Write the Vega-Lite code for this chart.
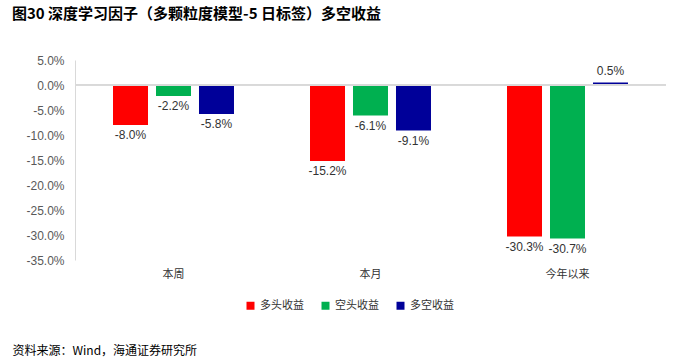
{
  "$schema": "https://vega.github.io/schema/vega-lite/v6.json",
  "autosize": "none",
  "width": 591,
  "height": 200,
  "padding": {"left": 75, "top": 60, "right": 34, "bottom": 102},
  "background": "white",
  "title": {
    "text": "图30 深度学习因子（多颗粒度模型-5 日标签）多空收益",
    "anchor": "start",
    "frame": "group",
    "dx": -63,
    "offset": 32,
    "font": "Noto Sans CJK SC",
    "fontSize": 15,
    "fontWeight": "bold",
    "color": "#000000"
  },
  "data": {
    "values": [
      {"period": "本周", "series": "多头收益", "value": -0.080},
      {"period": "本周", "series": "空头收益", "value": -0.022},
      {"period": "本周", "series": "多空收益", "value": -0.058},
      {"period": "本月", "series": "多头收益", "value": -0.152},
      {"period": "本月", "series": "空头收益", "value": -0.061},
      {"period": "本月", "series": "多空收益", "value": -0.091},
      {"period": "今年以来", "series": "多头收益", "value": -0.303},
      {"period": "今年以来", "series": "空头收益", "value": -0.307},
      {"period": "今年以来", "series": "多空收益", "value": 0.005}
    ]
  },
  "encoding": {
    "x": {
      "field": "period",
      "type": "nominal",
      "sort": ["本周", "本月", "今年以来"],
      "scale": {"paddingInner": 0, "paddingOuter": 0},
      "axis": {
        "title": "资料来源：Wind，海通证券研究所",
        "titleX": -63,
        "titleY": 90,
        "titleAlign": "left",
        "titleAnchor": null,
        "titleBaseline": "middle",
        "titleFont": "Noto Sans CJK SC",
        "titleFontSize": 12,
        "titleFontWeight": "normal",
        "titleColor": "#000000",
        "domain": false,
        "ticks": false,
        "labelAngle": 0,
        "labelPadding": 8,
        "labelFont": "Noto Sans CJK SC",
        "labelFontSize": 11,
        "labelColor": "#333333"
      }
    },
    "xOffset": {
      "field": "series",
      "type": "nominal",
      "sort": ["多头收益", "空头收益", "多空收益"],
      "scale": {"paddingInner": 0.186, "paddingOuter": 0.884}
    },
    "y": {
      "field": "value",
      "type": "quantitative",
      "scale": {"domain": [-0.35, 0.05], "nice": false},
      "axis": {
        "title": null,
        "format": ".1%",
        "values": [0.05, 0, -0.05, -0.1, -0.15, -0.2, -0.25, -0.3, -0.35],
        "labelOverlap": false,
        "grid": false,
        "ticks": false,
        "domain": true,
        "domainColor": "#d9d9d9",
        "labelPadding": 11,
        "labelFont": "Liberation Sans",
        "labelFontSize": 12,
        "labelColor": "#595959"
      }
    }
  },
  "layer": [
    {
      "mark": {"type": "bar"},
      "encoding": {
        "color": {
          "field": "series",
          "type": "nominal",
          "sort": ["多头收益", "空头收益", "多空收益"],
          "scale": {"domain": ["多头收益", "空头收益", "多空收益"], "range": ["#ff0000", "#00b050", "#000099"]},
          "legend": {
            "title": null,
            "orient": "none",
            "direction": "horizontal",
            "legendX": 170,
            "legendY": 240,
            "symbolType": "square",
            "symbolSize": 64,
            "symbolStrokeWidth": 0,
            "labelFont": "Noto Sans CJK SC",
            "labelFontSize": 11,
            "labelColor": "#333333",
            "columnPadding": 16,
            "labelOffset": 4
          }
        }
      }
    },
    {
      "mark": {"type": "rule", "color": "#d9d9d9", "strokeWidth": 1},
      "encoding": {"y": {"datum": 0, "type": "quantitative"}, "xOffset": null, "x": null}
    },
    {
      "transform": [{"filter": "datum.value < 0"}],
      "mark": {"type": "text", "baseline": "top", "dy": 5, "font": "Liberation Sans", "fontSize": 12, "color": "#333333"},
      "encoding": {
        "text": {"field": "value", "type": "quantitative", "format": ".1%"}
      }
    },
    {
      "transform": [{"filter": "datum.value >= 0"}],
      "mark": {"type": "text", "baseline": "bottom", "dy": -5, "font": "Liberation Sans", "fontSize": 12, "color": "#333333"},
      "encoding": {
        "text": {"field": "value", "type": "quantitative", "format": ".1%"}
      }
    }
  ],
  "config": {
    "view": {"stroke": null},
    "locale": {"number": {"decimal": ".", "thousands": ",", "grouping": [3], "currency": ["$", ""], "minus": "-"}}
  }
}
